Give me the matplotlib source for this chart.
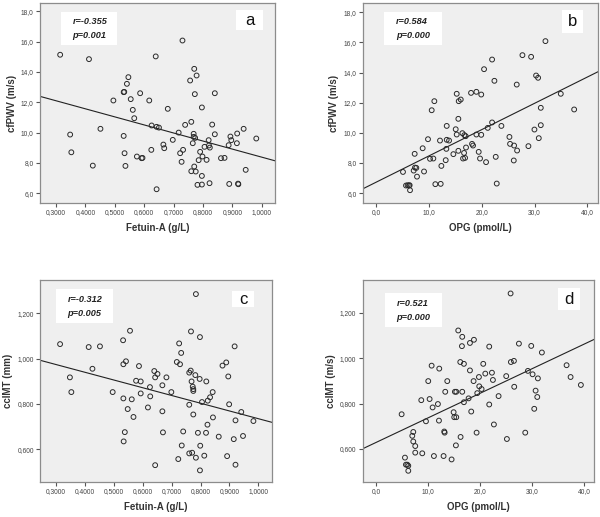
import numpy as np
import matplotlib
matplotlib.use("Agg")
import matplotlib.pyplot as plt
from matplotlib.patches import Rectangle
from matplotlib.ticker import FuncFormatter

plt.rcParams["font.family"] = ["Liberation Sans", "DejaVu Sans"]

# panel a: Fetuin-A vs cfPWV
fet_a = [0.314, 0.412, 0.348, 0.352, 0.425, 0.451, 0.495, 0.532, 0.530, 0.546,
         0.541, 0.554, 0.530, 0.533, 0.536, 0.561, 0.566, 0.586, 0.575, 0.591,
         0.594, 0.617, 0.625, 0.624, 0.639, 0.642, 0.650, 0.642, 0.680, 0.665,
         0.668, 0.697, 0.717, 0.722, 0.727, 0.732, 0.730, 0.739, 0.756, 0.760,
         0.760, 0.765, 0.768, 0.768, 0.773, 0.770, 0.775, 0.770, 0.778, 0.772,
         0.781, 0.785, 0.790, 0.796, 0.796, 0.796, 0.798, 0.805, 0.812, 0.819,
         0.820, 0.823, 0.822, 0.831, 0.840, 0.840, 0.861, 0.873, 0.887, 0.893,
         0.896, 0.889, 0.915, 0.916, 0.919, 0.920, 0.938, 0.945, 0.981]
pwv_a = [15.14, 14.85, 9.87, 8.70, 7.82, 10.25, 12.12, 12.69, 12.67, 13.66,
         13.22, 12.21, 9.78, 8.64, 7.80, 11.50, 10.95, 12.60, 8.42, 8.31,
         8.33, 12.12, 10.47, 8.86, 15.03, 10.38, 10.33, 6.26, 11.57, 9.21,
         8.97, 9.52, 10.00, 8.64, 8.07, 8.86, 16.08, 10.51, 13.44, 10.71,
         7.45, 9.30, 9.92, 9.72, 9.65, 7.76, 7.43, 14.21, 13.77, 12.54,
         6.55, 8.18, 8.73, 11.66, 7.14, 6.57, 8.42, 9.06, 8.20, 9.50,
         9.15, 9.01, 6.66, 10.53, 12.60, 9.89, 8.31, 8.33, 9.17, 9.74,
         9.50, 6.61, 9.30, 9.94, 6.63, 6.59, 10.25, 7.54, 9.61]

# panel b: OPG vs cfPWV
opg_b = [5.11, 5.68, 5.99, 6.25, 6.37, 6.44, 7.13, 7.32, 7.38, 7.63,
         7.76, 8.83, 9.09, 9.84, 10.22, 10.54, 10.85, 11.04, 11.23, 12.11,
         12.24, 12.37, 13.19, 13.38, 13.38, 13.31, 13.82, 14.64, 15.08, 15.27,
         15.27, 15.58, 15.58, 15.65, 16.03, 16.34, 16.47, 16.66, 16.72, 16.85,
         16.97, 17.03, 17.98, 18.17, 18.36, 18.99, 18.99, 19.43, 19.68, 19.91,
         19.91, 20.44, 20.82, 21.14, 21.96, 21.96, 22.40, 22.65, 22.84, 23.72,
         25.24, 25.36, 26.06, 26.12, 26.69, 26.62, 27.70, 28.83, 29.34, 29.97,
         30.28, 30.66, 30.79, 31.17, 31.17, 32.05, 34.95, 37.48]
pwv_b = [7.41, 6.51, 6.53, 6.51, 6.53, 6.20, 7.50, 8.61, 7.70, 7.68,
         7.10, 8.98, 7.44, 9.58, 8.28, 11.50, 8.30, 12.10, 6.60, 9.49,
         6.62, 7.81, 8.19, 10.46, 9.54, 8.94, 9.49, 8.59, 10.24, 12.59,
         9.89, 8.81, 10.93, 12.10, 12.21, 9.98, 8.30, 8.67, 9.85, 8.34,
         9.78, 9.03, 12.65, 9.27, 9.16, 12.72, 9.89, 8.74, 8.30, 9.87,
         12.54, 14.22, 8.06, 10.33, 10.69, 14.86, 13.45, 8.41, 6.64, 10.46,
         9.73, 9.27, 8.17, 9.16, 8.83, 13.20, 15.15, 9.12, 15.04, 10.22,
         13.80, 13.65, 9.65, 11.66, 10.51, 16.08, 12.59, 11.55]

# panel c: Fetuin-A vs ccIMT
fet_c = [0.314, 0.348, 0.353, 0.413, 0.426, 0.452, 0.496, 0.532, 0.533, 0.542,
         0.533, 0.538, 0.534, 0.548, 0.556, 0.562, 0.568, 0.577, 0.587, 0.593,
         0.593, 0.618, 0.625, 0.626, 0.640, 0.643, 0.651, 0.643, 0.668, 0.668,
         0.670, 0.682, 0.699, 0.718, 0.726, 0.729, 0.733, 0.723, 0.735, 0.740,
         0.761, 0.766, 0.761, 0.761, 0.767, 0.769, 0.773, 0.775, 0.775, 0.771,
         0.775, 0.782, 0.784, 0.784, 0.791, 0.797, 0.798, 0.799, 0.798, 0.805,
         0.813, 0.820, 0.819, 0.825, 0.824, 0.833, 0.842, 0.843, 0.863, 0.876,
         0.889, 0.892, 0.896, 0.899, 0.918, 0.915, 0.921, 0.921, 0.941, 0.947,
         0.983]
imt_c = [1.064, 0.917, 0.852, 1.051, 0.955, 1.054, 0.852, 1.081, 0.975, 0.988,
         0.824, 0.675, 0.634, 0.777, 1.123, 0.820, 0.742, 0.902, 0.967, 0.899,
         0.846, 0.784, 0.874, 0.833, 0.945, 0.917, 0.932, 0.529, 0.882, 0.767,
         0.674, 0.917, 0.852, 0.985, 1.067, 0.975, 1.025, 0.556, 0.616, 0.678,
         0.938, 0.947, 0.796, 0.581, 1.120, 0.899, 0.876, 0.865, 0.857, 0.584,
         0.753, 0.927, 1.285, 0.562, 0.672, 0.910, 1.095, 0.615, 0.506, 0.808,
         0.571, 0.899, 0.672, 0.814, 0.708, 0.829, 0.852, 0.740, 0.655, 0.969,
         0.983, 0.569, 0.921, 0.798, 1.054, 0.644, 0.727, 0.531, 0.764, 0.658,
         0.724]

# panel d: OPG vs ccIMT
opg_d = [4.94, 5.58, 5.77, 6.03, 6.22, 6.22, 6.99, 7.18, 7.18, 7.56,
         7.56, 8.72, 8.91, 9.62, 10.06, 10.32, 10.71, 10.90, 11.15, 11.92,
         12.12, 12.18, 13.01, 13.14, 13.21, 13.33, 13.72, 14.55, 14.94, 15.06,
         15.19, 15.45, 15.45, 15.38, 15.83, 16.22, 16.28, 16.54, 16.60, 16.60,
         16.92, 16.92, 17.82, 18.08, 18.08, 18.33, 18.78, 18.85, 19.36, 19.49,
         19.81, 19.87, 20.32, 20.64, 21.03, 21.79, 21.79, 22.31, 22.50, 22.69,
         23.59, 25.06, 25.19, 25.90, 25.96, 26.54, 26.60, 27.50, 28.72, 29.23,
         29.87, 30.13, 30.45, 30.71, 31.03, 31.15, 31.92, 36.67, 37.44, 39.42]
imt_d = [0.753, 0.562, 0.531, 0.531, 0.526, 0.504, 0.658, 0.675, 0.633, 0.613,
         0.584, 0.815, 0.581, 0.722, 0.899, 0.820, 0.967, 0.783, 0.569, 0.798,
         0.725, 0.954, 0.569, 0.677, 0.672, 0.852, 0.899, 0.554, 0.762, 0.740,
         0.852, 0.852, 0.740, 0.616, 1.122, 0.983, 0.653, 1.053, 1.094, 0.852,
         0.975, 0.806, 0.823, 1.067, 0.946, 0.765, 0.899, 1.081, 0.672, 0.846,
         0.917, 0.876, 0.864, 0.975, 0.932, 1.051, 0.796, 0.936, 0.904, 0.708,
         0.833, 0.921, 0.644, 1.285, 0.983, 0.988, 0.874, 1.064, 0.672, 0.944,
         1.054, 0.929, 0.777, 0.857, 0.829, 0.911, 1.025, 0.969, 0.917, 0.882]

stats = [("r=-0.355", "p=0.001"), ("r=0.584", "p=0.000"),
         ("r=-0.312", "p=0.005"), ("r=0.521", "p=0.000")]
letters = ["a", "b", "c", "d"]
xlabels = ["Fetuin-A (g/L)", "OPG (pmol/L)", "Fetuin-A (g/L)", "OPG (pmol/L)"]
ylabels = ["cfPWV (m/s)", "cfPWV (m/s)", "ccIMT (mm)", "ccIMT (m/s)"]

fet_ticks = [0.3, 0.4, 0.5, 0.6, 0.7, 0.8, 0.9, 1.0]
opg_ticks = [0.0, 10.0, 20.0, 30.0, 40.0]
pwv_ticks = [6.0, 8.0, 10.0, 12.0, 14.0, 16.0, 18.0]
imt_ticks = [0.6, 0.8, 1.0, 1.2]

fig = plt.figure(figsize=(6.0, 5.17), dpi=100)

panels = [
    dict(pos=[0.0667, 0.607, 0.392, 0.387], x=fet_a, y=pwv_a, xlim=(0.2455, 1.0454),
         ylim=(5.34, 18.55), xt=fet_ticks, yt=pwv_ticks, xf="{:.4f}", yf="{:.1f}",
         box=(0.088, 0.79, 0.241, 0.167), lbox=(0.834, 0.865, 0.115, 0.10)),
    dict(pos=[0.6044, 0.607, 0.392, 0.387], x=opg_b, y=pwv_b, xlim=(-2.52, 41.96),
         ylim=(5.34, 18.6), xt=opg_ticks, yt=pwv_ticks, xf="{:.1f}", yf="{:.1f}",
         box=(0.091, 0.79, 0.245, 0.167), lbox=(0.846, 0.85, 0.092, 0.115)),
    dict(pos=[0.0667, 0.0683, 0.386, 0.390], x=fet_c, y=imt_c, xlim=(0.2446, 1.046),
         ylim=(0.456, 1.347), xt=fet_ticks, yt=imt_ticks, xf="{:.4f}", yf="{:.3f}",
         box=(0.069, 0.785, 0.245, 0.169), lbox=(0.829, 0.864, 0.095, 0.083)),
    dict(pos=[0.6044, 0.0683, 0.386, 0.390], x=opg_d, y=imt_d, xlim=(-2.56, 41.99),
         ylim=(0.456, 1.344), xt=opg_ticks, yt=imt_ticks, xf="{:.1f}", yf="{:.3f}",
         box=(0.096, 0.767, 0.245, 0.167), lbox=(0.843, 0.851, 0.094, 0.108)),
]

for i, p in enumerate(panels):
    ax = fig.add_axes(p["pos"])
    ax.set_facecolor("#efefef")
    for s in ax.spines.values():
        s.set_color("#8c8c8c")
        s.set_linewidth(0.9)

    x = np.array(p["x"])
    y = np.array(p["y"])
    ax.scatter(x, y, s=12, facecolors="none", edgecolors="#2a2a2a", linewidths=0.7, zorder=3)

    k, b = np.polyfit(x, y, 1)
    xx = np.array(p["xlim"])
    ax.plot(xx, k * xx + b, color="#222222", lw=0.8, zorder=2)

    ax.set_xlim(p["xlim"])
    ax.set_ylim(p["ylim"])
    ax.set_xticks(p["xt"])
    ax.set_yticks(p["yt"])
    ax.xaxis.set_major_formatter(FuncFormatter(lambda v, pos, f=p["xf"]: f.format(v).replace(".", ",")))
    ax.yaxis.set_major_formatter(FuncFormatter(lambda v, pos, f=p["yf"]: f.format(v).replace(".", ",")))
    ax.tick_params(labelsize=4.8, length=3, width=0.8, color="#555555", labelcolor="#444444", pad=1.5)

    ax.set_xlabel(xlabels[i], fontsize=7, fontweight="bold", color="#333333", labelpad=5)
    ax.set_ylabel(ylabels[i], fontsize=7, fontweight="bold", color="#333333", labelpad=3)

    bx, by, bw, bh = p["box"]
    ax.add_patch(Rectangle((bx, by), bw, bh, transform=ax.transAxes,
                           facecolor="white", edgecolor="none", zorder=4))
    r_txt, p_txt = stats[i]
    ax.text(bx + 0.05, by + bh * 0.70, r_txt, transform=ax.transAxes, fontsize=6.6,
            fontweight="bold", fontstyle="italic", va="center", ha="left", zorder=5, color="#222222")
    ax.text(bx + 0.05, by + bh * 0.28, p_txt, transform=ax.transAxes, fontsize=6.6,
            fontweight="bold", fontstyle="italic", va="center", ha="left", zorder=5, color="#222222")

    lx, ly, lw, lh = p["lbox"]
    ax.add_patch(Rectangle((lx, ly), lw, lh, transform=ax.transAxes,
                           facecolor="white", edgecolor="none", zorder=4))
    ax.text(lx + lw / 2, ly + lh / 2, letters[i], transform=ax.transAxes, fontsize=12,
            va="center", ha="center", zorder=5, color="#111111")

fig.savefig("out.png", dpi=100)
